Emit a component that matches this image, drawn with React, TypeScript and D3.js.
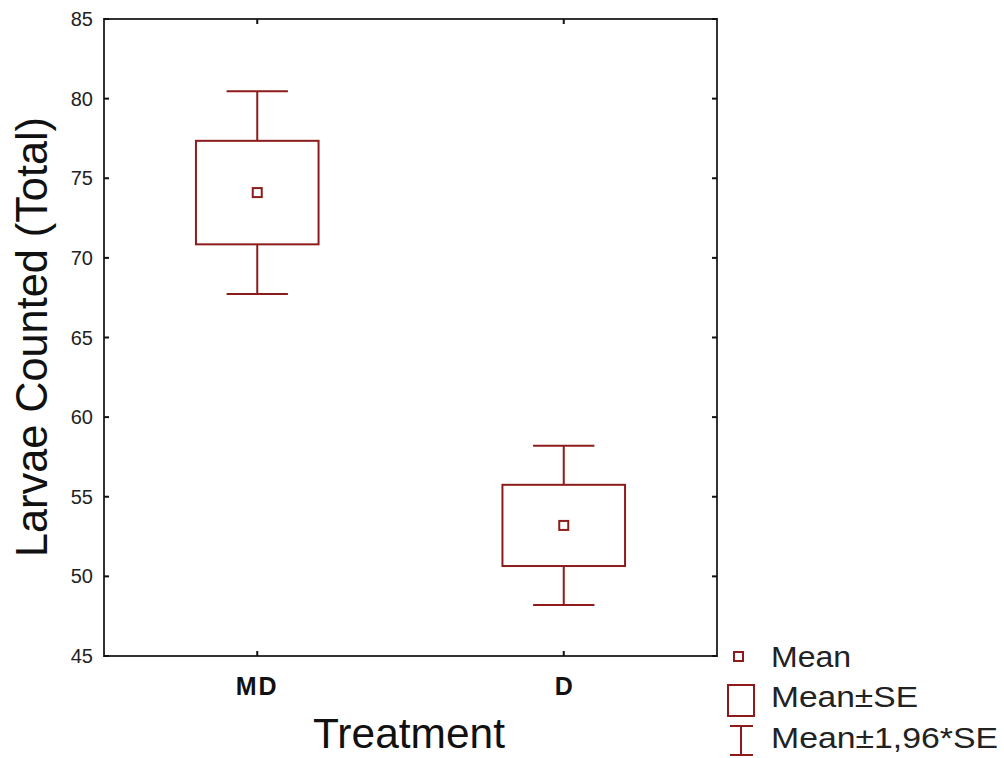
import React from "react";
import * as d3 from "d3";

// Treatment groups and their summary statistics
const categories = ["MD", "D"];
const means = [74.1, 53.2];
const stdErrors = [3.25, 2.55];
const yTicks = [45, 50, 55, 60, 65, 70, 75, 80, 85];
const legendLabels = ["Mean", "Mean±SE", "Mean±1,96*SE"];

const W = 1004;
const H = 758;
const plot = { left: 104, right: 717, top: 19, bottom: 656 };
const RED = "#8e1b1b";
const FRAME = "#333";

// legend text rows: baseline and drawn width
const legendRows = [
  { y: 667, len: 80 },
  { y: 707, len: 147 },
  { y: 748, len: 227 },
];

export default function App() {
  const x = d3
    .scaleBand<string>()
    .domain(categories)
    .range([plot.left, plot.right])
    .padding(0);
  const y = d3.scaleLinear().domain([45, 85]).range([plot.bottom, plot.top]);
  const bw = x.bandwidth();
  const boxW = bw * 0.4;
  const capW = bw * 0.2;

  return (
    <svg
      width={W}
      height={H}
      style={{ position: "absolute", left: 0, top: 0, background: "#fff" }}
      fontFamily="'Liberation Sans', Arial, sans-serif"
    >
      {/* groups */}
      {categories.map((c, i) => {
        const cx = (x(c) as number) + bw / 2;
        const m = means[i];
        const se = stdErrors[i];
        const ci = 1.96 * se;
        return (
          <g key={c} stroke={RED} strokeWidth={2} fill="none">
            <line x1={cx} x2={cx} y1={y(m + ci)} y2={y(m + se)} />
            <line x1={cx} x2={cx} y1={y(m - se)} y2={y(m - ci)} />
            <line x1={cx - capW / 2} x2={cx + capW / 2} y1={y(m + ci)} y2={y(m + ci)} />
            <line x1={cx - capW / 2} x2={cx + capW / 2} y1={y(m - ci)} y2={y(m - ci)} />
            <rect x={cx - boxW / 2} y={y(m + se)} width={boxW} height={y(m - se) - y(m + se)} />
            <rect x={cx - 4.5} y={y(m) - 4.5} width={9} height={9} />
          </g>
        );
      })}

      {/* frame */}
      <rect
        x={plot.left}
        y={plot.top}
        width={plot.right - plot.left}
        height={plot.bottom - plot.top}
        fill="none"
        stroke={FRAME}
        strokeWidth={2}
      />

      {/* y ticks, both sides inward */}
      {yTicks.map((t) => (
        <g key={t}>
          <line x1={plot.left} x2={plot.left + 5} y1={y(t)} y2={y(t)} stroke="#111" strokeWidth={2} />
          <line x1={plot.right - 5} x2={plot.right} y1={y(t)} y2={y(t)} stroke="#111" strokeWidth={2} />
          <text
            x={93}
            y={y(t)}
            textAnchor="end"
            dominantBaseline="central"
            fontSize={20}
            fill="#222"
          >
            {t}
          </text>
        </g>
      ))}

      {/* x ticks, top and bottom inward */}
      {categories.map((c) => {
        const cx = (x(c) as number) + bw / 2;
        return (
          <g key={c}>
            <line x1={cx} x2={cx} y1={plot.bottom} y2={plot.bottom - 5} stroke="#111" strokeWidth={2} />
            <line x1={cx} x2={cx} y1={plot.top} y2={plot.top + 5} stroke="#111" strokeWidth={2} />
            <text
              x={cx}
              y={695}
              textAnchor="middle"
              fontSize={25}
              fontWeight="bold"
              letterSpacing={c.length > 1 ? 2 : 0}
              fill="#111"
            >
              {c}
            </text>
          </g>
        );
      })}

      {/* axis titles */}
      <text
        x={409}
        y={748}
        textAnchor="middle"
        fontSize={43}
        textLength={192}
        lengthAdjust="spacingAndGlyphs"
        fill="#111"
      >
        Treatment
      </text>
      <text
        transform="translate(47,337) rotate(-90)"
        textAnchor="middle"
        fontSize={45}
        textLength={440}
        lengthAdjust="spacingAndGlyphs"
        fill="#111"
      >
        Larvae Counted (Total)
      </text>

      {/* legend */}
      <g stroke={RED} strokeWidth={2} fill="none">
        <rect x={734} y={652} width={9} height={9} />
        <rect x={728} y={685} width={26} height={31} />
        <line x1={741} x2={741} y1={726} y2={755} />
        <line x1={730} x2={753} y1={726} y2={726} />
        <line x1={730} x2={753} y1={755} y2={755} />
      </g>
      {legendLabels.map((l, i) => (
        <text
          key={l}
          x={771}
          y={legendRows[i].y}
          fontSize={30}
          textLength={legendRows[i].len}
          lengthAdjust="spacingAndGlyphs"
          fill="#222"
        >
          {l}
        </text>
      ))}
    </svg>
  );
}
